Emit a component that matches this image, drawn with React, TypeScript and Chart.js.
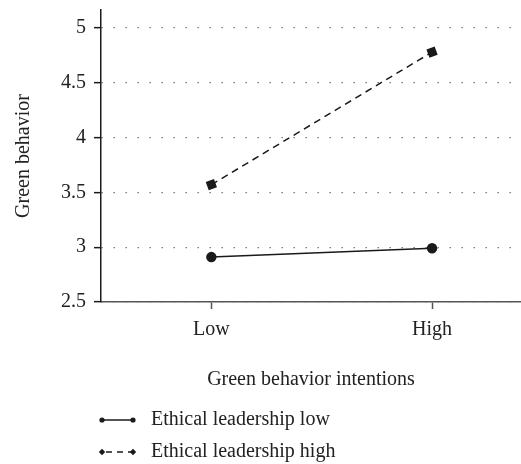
import React, { useEffect, useRef } from 'react';
import { Chart, registerables } from 'chart.js';

Chart.register(...registerables);

const categories = ['Low', 'High'];
const seriesNames = ['Ethical leadership low', 'Ethical leadership high'];
const lowLeadershipValues = [2.91, 2.99];
const highLeadershipValues = [3.57, 4.78];
const yTickValues = [2.5, 3, 3.5, 4, 4.5, 5];
const xTitle = 'Green behavior intentions';
const yTitle = 'Green behavior';

const FONT = '"Liberation Serif", "DejaVu Serif", serif';
const INK = '#1a1a1a';

const legendPlugin = {
  id: 'stackedLegend',
  afterDraw(chart: any) {
    const ctx = chart.ctx as CanvasRenderingContext2D;
    const left = chart.chartArea.left;
    chart.data.datasets.forEach((ds: any, i: number) => {
      const y = 420 + i * 32;
      const x0 = left + 1;
      const x1 = left + 32;
      ctx.save();
      ctx.strokeStyle = INK;
      ctx.fillStyle = INK;
      ctx.lineWidth = 1.5;
      ctx.setLineDash(i === 0 ? [] : [6, 5]);
      ctx.lineDashOffset = -4;
      ctx.beginPath();
      ctx.moveTo(x0, y);
      ctx.lineTo(x1, y);
      ctx.stroke();
      ctx.setLineDash([]);
      [x0, x1].forEach((x) => {
        ctx.beginPath();
        if (i === 0) {
          ctx.arc(x, y, 2.6, 0, Math.PI * 2);
        } else {
          ctx.moveTo(x, y - 3.2);
          ctx.lineTo(x + 3.2, y);
          ctx.lineTo(x, y + 3.2);
          ctx.lineTo(x - 3.2, y);
          ctx.closePath();
        }
        ctx.fill();
      });
      ctx.font = `20px ${FONT}`;
      ctx.textBaseline = 'middle';
      ctx.textAlign = 'left';
      ctx.fillStyle = '#222';
      ctx.fillText(ds.label, left + 50, y);
      ctx.restore();
    });
  },
};

export default function App() {
  const ref = useRef<HTMLCanvasElement | null>(null);

  useEffect(() => {
    if (!ref.current) return;
    const chart = new Chart(ref.current, {
      type: 'line',
      data: {
        datasets: [
          {
            label: seriesNames[0],
            data: lowLeadershipValues.map((v, i) => ({ x: i, y: v })),
            borderColor: INK,
            backgroundColor: INK,
            borderWidth: 1.5,
            pointStyle: 'circle',
            pointRadius: 5.2,
            pointBackgroundColor: INK,
            pointBorderColor: INK,
            pointBorderWidth: 0,
            tension: 0,
          },
          {
            label: seriesNames[1],
            data: highLeadershipValues.map((v, i) => ({ x: i, y: v })),
            borderColor: INK,
            backgroundColor: INK,
            borderWidth: 1.5,
            borderDash: [7, 5],
            pointStyle: 'rect',
            pointRadius: 6.2,
            pointRotation: -20,
            pointBackgroundColor: INK,
            pointBorderColor: INK,
            pointBorderWidth: 0,
            tension: 0,
          },
        ],
      },
      options: {
        animation: false,
        responsive: false,
        maintainAspectRatio: false,
        devicePixelRatio: 1,
        layout: { autoPadding: false, padding: { top: 10, left: 0, right: 0, bottom: 62 } },
        plugins: {
          legend: { display: false },
          tooltip: { enabled: false },
        },
        scales: {
          x: {
            type: 'linear',
            min: -0.5,
            max: 1.403,
            afterBuildTicks: (scale: any) => {
              scale.ticks = categories.map((_, i) => ({ value: i }));
            },
            afterFit: (scale: any) => {
              scale.height = 100;
              scale.paddingLeft = 0;
              scale.paddingRight = 0;
              scale.paddingTop = 0;
              scale.paddingBottom = 0;
            },
            ticks: {
              callback: (v: any) => categories[v as number] ?? '',
              font: { family: FONT, size: 20 },
              color: '#222',
              padding: 9,
              maxRotation: 0,
            },
            grid: {
              drawOnChartArea: false,
              drawTicks: true,
              tickLength: 7,
              tickColor: '#555',
              tickWidth: 1.5,
            },
            border: { color: '#555', width: 1.5 },
            title: {
              display: true,
              text: xTitle,
              font: { family: FONT, size: 20 },
              color: '#222',
              padding: { top: 4, bottom: 10 },
            },
          },
          y: {
            type: 'linear',
            min: 2.5,
            max: 5.164,
            afterBuildTicks: (scale: any) => {
              scale.ticks = yTickValues.map((v) => ({ value: v }));
            },
            afterFit: (scale: any) => {
              scale.width = 101;
              scale.paddingLeft = 0;
              scale.paddingRight = 0;
              scale.paddingTop = 0;
              scale.paddingBottom = 0;
            },
            ticks: {
              callback: (v: any) => String(v),
              font: { family: FONT, size: 20 },
              color: '#222',
              padding: 8,
            },
            grid: {
              drawOnChartArea: true,
              color: '#666',
              lineWidth: 1.3,
              drawTicks: true,
              tickLength: 7,
              tickColor: INK,
              tickWidth: 1.5,
            },
            border: { color: INK, width: 1.5, dash: [1.3, 10.7] },
            title: {
              display: true,
              text: yTitle,
              font: { family: FONT, size: 20 },
              color: '#222',
              padding: { top: 12, bottom: 4 },
            },
          },
        },
      },
      plugins: [legendPlugin],
    });
    return () => chart.destroy();
  }, []);

  return (
    <div style={{ position: 'fixed', left: 0, top: 0, width: 521, height: 464 }}>
      <canvas ref={ref} width={521} height={464} style={{ display: 'block' }} />
    </div>
  );
}
